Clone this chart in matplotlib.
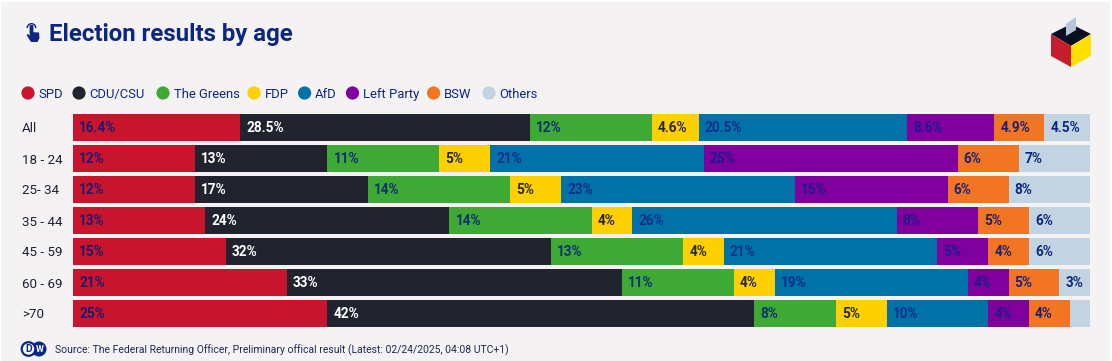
import matplotlib
matplotlib.use("Agg")
import matplotlib.pyplot as plt
from matplotlib.patches import Circle, Polygon, Rectangle, Wedge, FancyBboxPatch

ages = ["All", "18 - 24", "25- 34", "35 - 44", "45 - 59", "60 - 69", ">70"]
parties = ["SPD", "CDU/CSU", "The Greens", "FDP", "AfD", "Left Party", "BSW", "Others"]
spd    = [16.4, 12, 12, 13, 15, 21, 25]
cdu    = [28.5, 13, 17, 24, 32, 33, 42]
greens = [12, 11, 14, 14, 13, 11, 8]
fdp    = [4.6, 5, 5, 4, 4, 4, 5]
afd    = [20.5, 21, 23, 26, 21, 19, 10]
left   = [8.6, 25, 15, 8, 5, 4, 4]
bsw    = [4.9, 6, 6, 5, 4, 5, 4]
others = [4.5, 7, 8, 6, 6, 3, 2]
series = [spd, cdu, greens, fdp, afd, left, bsw, others]

colors = ["#c8142c", "#21242f", "#3fa935", "#ffd000", "#0072a8", "#7f009c", "#f27524", "#c2d4e2"]
text_colors = ["#1d1a6e", "#ffffff", "#0c3070", "#25283a", "#0c2f8a", "#1d1a8e", "#1c2270", "#0c2780"]
legend_dot_x = [28, 79, 163, 254, 304.6, 352.5, 433.6, 489]
NAVY = "#0c2780"
BG = "#f4f2f3"
FONT = "Roboto"

W, H = 1112, 361
fig = plt.figure(figsize=(W / 100, H / 100), dpi=100, facecolor="white")

# pixel-coordinate layer for everything around the bars
bg = fig.add_axes([0, 0, 1, 1])
bg.set_xlim(0, W); bg.set_ylim(H, 0); bg.axis("off")
bg.add_patch(Rectangle((1, 2), 1109, 359, color=BG, lw=0))

# hand icon
bg.add_patch(Wedge((31.5, 28), 5, 180, 360, width=1.4, color=NAVY, lw=0))
bg.add_patch(FancyBboxPatch((30, 25.5), 3, 10, boxstyle="round,pad=0.4", color=NAVY, lw=0))
bg.add_patch(Polygon([(30, 32), (39, 32.5), (39.5, 38), (37.5, 42), (31, 42), (26.5, 35), (28, 34), (30, 36)],
                     color=NAVY, lw=0))

bg.text(49, 34, "Election results by age", fontsize=17.3, color=NAVY,
        family=FONT, weight="bold", va="center")

for name, col, x in zip(parties, colors, legend_dot_x):
    bg.add_patch(Circle((x, 93), 6.6, color=col, lw=0))
    bg.text(x + 10.5, 94.3, name, fontsize=9.4, color=NAVY, family=FONT, va="center")

# ballot box logo
bg.add_patch(Polygon([(1051, 34), (1071, 24), (1091, 34), (1071, 46)], color="#0a0e22", lw=0))
bg.add_patch(Polygon([(1051, 34), (1071, 46), (1071, 67), (1051, 56)], color="#c41e2e", lw=0))
bg.add_patch(Polygon([(1071, 46), (1091, 34), (1091, 56), (1071, 67)], color="#ffdf00", lw=0))
bg.add_patch(Polygon([(1066, 24), (1076, 17), (1076, 30), (1066, 36)], color="#b3c7d8", lw=0))

# DW logo
bg.add_patch(Circle((39, 349), 7.5, color=NAVY, lw=0))
bg.add_patch(Circle((28.5, 349), 6.8, color="white", ec=NAVY, lw=1.6))
bg.text(28.5, 349.2, "D", fontsize=7.5, color=NAVY, family=FONT, weight="bold", ha="center", va="center")
bg.text(39.5, 349.2, "W", fontsize=6.5, color="white", family=FONT, weight="bold", ha="center", va="center")
bg.text(54.6, 350.3, "Source: The Federal Returning Officer, Preliminary offical result (Latest: 02/24/2025, 04:08 UTC+1)",
        fontsize=7.47, color="#1c2a55", family=FONT, va="center")

# bars
x0, x1 = 73.3, 1090
top, bottom = 114, 327
ax = fig.add_axes([x0 / W, 1 - bottom / H, (x1 - x0) / W, (bottom - top) / H])
ax.patch.set_alpha(0)
ypos = list(range(len(ages)))
starts = [0.0] * len(ages)
for name, vals, col, tcol in zip(parties, series, colors, text_colors):
    ax.barh(ypos, vals, left=starts, height=27 / 31, color=col, lw=0)
    for i, v in enumerate(vals):
        if name == "Others" and ages[i] == ">70":
            continue
        ax.text(starts[i] + 6 / 10.167, i + 0.03, f"{v}%", color=tcol, fontsize=9.8,
                family=FONT, weight="bold", ha="left", va="center")
    starts = [s + v for s, v in zip(starts, vals)]

ax.set_xlim(0, 100)
ax.set_ylim(len(ages) - 1 + 13.5 / 31, -13.5 / 31)
ax.set_xticks([])
ax.set_yticks(ypos)
ax.set_yticklabels(ages, family=FONT, fontsize=9.6, color="#1c2233", ha="left")
ax.tick_params(axis="y", length=0, pad=51 * 0.72)
for s in ax.spines.values():
    s.set_visible(False)

fig.savefig("out.png", dpi=100, facecolor="white")
